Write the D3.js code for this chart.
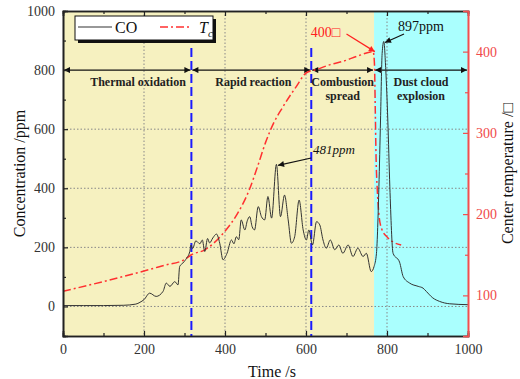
<!DOCTYPE html>
<html>
<head>
<meta charset="utf-8">
<script src="https://cdn.jsdelivr.net/npm/d3@7"></script>
<style>
  body { margin: 0; background: #fff; }
  svg text { font-family: "Liberation Serif", "Times New Roman", "DejaVu Serif", serif !important; }
</style>
</head>
<body>
<div id="chart"></div>
<script>
// CO concentration [time s, ppm]
const coData = [
  [0, 3], [50, 3], [100, 3], [150, 4], [180, 8], [190, 14], [200, 23], [214, 45], [230, 34],
  [247, 51], [255, 79], [264, 68], [276, 84], [284, 73], [288, 135], [296, 147], [305, 163],
  [313, 186], [316, 208], [320, 196], [328, 222], [338, 212], [344, 225], [350, 186], [357, 230],
  [362, 215], [370, 232], [379, 245], [387, 214], [395, 158], [405, 180], [416, 225], [422, 212],
  [428, 236], [434, 226], [440, 293], [449, 259], [455, 290], [461, 304], [467, 270], [473, 259],
  [482, 338], [490, 304], [498, 293], [506, 372], [515, 299], [527, 481], [537, 304], [547, 377],
  [556, 293], [564, 214], [572, 236], [583, 360], [593, 259], [601, 225], [607, 259], [616, 208],
  [626, 287], [634, 276], [642, 225], [650, 197], [660, 225], [671, 192], [681, 208], [691, 180],
  [704, 208], [716, 169], [728, 197], [741, 169], [749, 180], [761, 118], [768, 135], [774, 180],
  [780, 405], [784, 631], [788, 856], [792, 897], [797, 800], [802, 631], [807, 405], [815, 180],
  [831, 150], [840, 101], [856, 79], [877, 68], [889, 62], [897, 51], [913, 29], [930, 17],
  [955, 9], [1000, 6]
];

// Center temperature [time s, degC]
const tempData = [
  [0, 105], [100, 117], [200, 130], [250, 137], [300, 144], [317, 150], [350, 156], [400, 179],
  [430, 200], [460, 230], [480, 258], [500, 288], [520, 312], [543, 332], [576, 357], [601, 374],
  [626, 378], [660, 384], [691, 388], [730, 395], [766, 400], [769, 385], [771, 330], [773, 270],
  [776, 230], [780, 200], [786, 183], [800, 172], [814, 166], [835, 162]
];

const stageBounds = [0, 317, 613, 768, 1000];
const stageLabels = [["Thermal oxidation"], ["Rapid reaction"], ["Combustion", "spread"], ["Dust cloud", "explosion"]];
const dividers = [317, 613];
const xTicks = [0, 200, 400, 600, 800, 1000];
const xMinor = [100, 300, 500, 700, 900];
const yTicks = [0, 200, 400, 600, 800, 1000];
const yMinor = [-100, 100, 300, 500, 700, 900];
const tTicks = [100, 200, 300, 400];
const tMinor = [150, 250, 350];

const width = 520;
const height = 379;
const margin = { top: 11, right: 52, bottom: 43, left: 63 };

const svg = d3.select('#chart').append('svg')
  .attr('width', width)
  .attr('height', height);

const x = d3.scaleLinear().domain([0, 1000]).range([margin.left, width - margin.right]);
const y = d3.scaleLinear().domain([-100, 1000]).range([height - margin.bottom, margin.top]);
const yT = d3.scaleLinear().domain([50, 450]).range([height - margin.bottom, margin.top]);

const plotTop = margin.top;
const plotBottom = height - margin.bottom;

// stage backgrounds
svg.append('rect')
  .attr('x', x(0)).attr('y', plotTop)
  .attr('width', x(768) - x(0)).attr('height', plotBottom - plotTop)
  .attr('fill', '#f6f1c0');
svg.append('rect')
  .attr('x', x(768)).attr('y', plotTop)
  .attr('width', x(1000) - x(768)).attr('height', plotBottom - plotTop)
  .attr('fill', '#aafffe');

// grid
const grid = svg.append('g')
  .attr('stroke', '#888')
  .attr('stroke-width', 1)
  .attr('stroke-dasharray', '1.5,2');
grid.selectAll('line.v')
  .data([200, 400, 600, 800])
  .join('line')
  .attr('class', 'v')
  .attr('x1', (d) => x(d)).attr('x2', (d) => x(d))
  .attr('y1', plotTop).attr('y2', plotBottom);
grid.selectAll('line.h')
  .data([0, 200, 400, 600])
  .join('line')
  .attr('class', 'h')
  .attr('x1', x(0)).attr('x2', x(1000))
  .attr('y1', (d) => y(d)).attr('y2', (d) => y(d));

// divider lines
svg.selectAll('line.div')
  .data(dividers)
  .join('line')
  .attr('class', 'div')
  .attr('x1', (d) => x(d)).attr('x2', (d) => x(d))
  .attr('y1', y(875)).attr('y2', plotBottom)
  .attr('stroke', '#1a1aff')
  .attr('stroke-width', 2)
  .attr('stroke-dasharray', '9,4');

// arrow markers
const defs = svg.append('defs');
const marker = (id, color) => defs.append('marker')
  .attr('id', id)
  .attr('viewBox', '0 0 10 10')
  .attr('refX', 10).attr('refY', 5)
  .attr('markerWidth', 8).attr('markerHeight', 6)
  .attr('markerUnits', 'userSpaceOnUse')
  .attr('orient', 'auto-start-reverse')
  .append('path')
  .attr('d', 'M0,0L10,5L0,10z')
  .attr('fill', color);
marker('arrBlack', '#111');
marker('arrRed', '#ff2020');

// stage arrows and labels
const stages = d3.pairs(stageBounds);
svg.selectAll('line.stage')
  .data(stages)
  .join('line')
  .attr('class', 'stage')
  .attr('x1', (d) => x(d[0]) + 1).attr('x2', (d) => x(d[1]) - 1)
  .attr('y1', y(800)).attr('y2', y(800))
  .attr('stroke', '#111')
  .attr('stroke-width', 1.2)
  .attr('marker-start', 'url(#arrBlack)')
  .attr('marker-end', 'url(#arrBlack)');

const labelG = svg.append('g')
  .attr('font-size', 12)
  .attr('font-weight', 'bold')
  .attr('fill', '#222')
  .attr('text-anchor', 'middle');
stages.forEach((s, i) => {
  const cx = i === 0 ? x(s[0]) + 75 : (x(s[0]) + x(s[1])) / 2;
  stageLabels[i].forEach((line, j) => {
    labelG.append('text')
      .attr('x', cx + (i === 1 ? 2 : 0))
      .attr('y', y(800) + 16 + j * 14)
      .text(line);
  });
});

// series
const coLine = d3.line()
  .x((d) => x(d[0]))
  .y((d) => y(d[1]))
  .curve(d3.curveMonotoneX);
const tLine = d3.line()
  .x((d) => x(d[0]))
  .y((d) => yT(d[1]))
  .curve(d3.curveMonotoneX);

svg.append('path')
  .datum(tempData)
  .attr('d', tLine)
  .attr('fill', 'none')
  .attr('stroke', '#ff3030')
  .attr('stroke-width', 1.5)
  .attr('stroke-dasharray', '8,3,2,3');

svg.append('path')
  .datum(coData)
  .attr('d', coLine)
  .attr('fill', 'none')
  .attr('stroke', '#333')
  .attr('stroke-width', 1);

// axes
const fmt = d3.format('d');
svg.append('g')
  .attr('transform', `translate(0,${plotBottom})`)
  .call(d3.axisBottom(x).tickValues(xTicks).tickSize(-5).tickPadding(8).tickFormat(fmt));
svg.append('g')
  .attr('transform', `translate(0,${plotBottom})`)
  .call(d3.axisBottom(x).tickValues(xMinor).tickSize(-3).tickFormat(''));
svg.append('g')
  .attr('transform', `translate(0,${plotTop})`)
  .call(d3.axisTop(x).tickValues(xTicks).tickSize(-5).tickFormat(''));
svg.append('g')
  .attr('transform', `translate(0,${plotTop})`)
  .call(d3.axisTop(x).tickValues(xMinor).tickSize(-3).tickFormat(''));
svg.append('g')
  .attr('transform', `translate(${x(0)},0)`)
  .call(d3.axisLeft(y).tickValues(yTicks).tickSize(-5).tickPadding(8).tickFormat(fmt));
svg.append('g')
  .attr('transform', `translate(${x(0)},0)`)
  .call(d3.axisLeft(y).tickValues(yMinor).tickSize(-3).tickFormat(''));
svg.append('g')
  .attr('class', 'red')
  .attr('transform', `translate(${x(1000)},0)`)
  .call(d3.axisRight(yT).tickValues(tTicks).tickSize(-5).tickPadding(8).tickFormat(fmt));
svg.append('g')
  .attr('class', 'red')
  .attr('transform', `translate(${x(1000)},0)`)
  .call(d3.axisRight(yT).tickValues(tMinor).tickSize(-3).tickFormat(''));

svg.selectAll('.domain').attr('stroke', '#222').attr('stroke-width', 1.6);
svg.selectAll('.tick line').attr('stroke', '#222').attr('stroke-width', 1.2);
svg.selectAll('.tick text')
  .attr('font-size', 14)
  .attr('fill', '#333');
svg.selectAll('g.red .domain').attr('stroke', '#f05050');
svg.selectAll('g.red .tick line').attr('stroke', '#f05050');
svg.selectAll('g.red .tick text').attr('fill', '#f04a4a');

// axis titles
svg.append('text')
  .attr('transform', `translate(25,${(plotTop + plotBottom) / 2}) rotate(-90)`)
  .attr('text-anchor', 'middle')
  .attr('font-size', 16)
  .attr('fill', '#111')
  .text('Concentration /ppm');
svg.append('text')
  .attr('x', 272)
  .attr('y', 377)
  .attr('text-anchor', 'middle')
  .attr('font-size', 16)
  .attr('fill', '#111')
  .text('Time /s');
svg.append('text')
  .attr('transform', `translate(513,${(plotTop + plotBottom) / 2}) rotate(-90)`)
  .attr('text-anchor', 'middle')
  .attr('font-size', 16)
  .attr('fill', '#111')
  .text('Center temperature /□');

// annotations
const ann = svg.append('g').attr('font-size', 14);
ann.append('text')
  .attr('x', x(827)).attr('y', 31)
  .attr('fill', '#111')
  .text('897ppm');
ann.append('line')
  .attr('x1', x(842)).attr('y1', 34)
  .attr('x2', x(795)).attr('y2', y(897) + 1)
  .attr('stroke', '#111').attr('stroke-width', 1.2)
  .attr('marker-end', 'url(#arrBlack)');
ann.append('text')
  .attr('x', x(612)).attr('y', 37)
  .attr('fill', '#ff2020')
  .text('400□');
ann.append('line')
  .attr('x1', x(700)).attr('y1', 34)
  .attr('x2', x(770)).attr('y2', yT(400))
  .attr('stroke', '#ff2020').attr('stroke-width', 1.2)
  .attr('marker-end', 'url(#arrRed)');
ann.append('text')
  .attr('x', x(617)).attr('y', 154)
  .attr('font-style', 'italic')
  .attr('font-size', 13)
  .attr('fill', '#111')
  .text('481ppm');
ann.append('line')
  .attr('x1', x(613)).attr('y1', 158)
  .attr('x2', x(531)).attr('y2', y(481) + 1)
  .attr('stroke', '#111').attr('stroke-width', 1.2)
  .attr('marker-end', 'url(#arrBlack)');

// legend
const lg = svg.append('g').attr('transform', 'translate(75,16)');
lg.append('rect').attr('x', 3).attr('y', 3).attr('width', 138).attr('height', 24).attr('fill', '#111');
lg.append('rect').attr('width', 138).attr('height', 24).attr('fill', '#fff').attr('stroke', '#111');
lg.append('line').attr('x1', 3).attr('x2', 37).attr('y1', 11).attr('y2', 11)
  .attr('stroke', '#333').attr('stroke-width', 1.2);
lg.append('text').attr('x', 40).attr('y', 17).attr('font-size', 16).attr('fill', '#111').text('CO');
lg.append('line').attr('x1', 85).attr('x2', 116).attr('y1', 11).attr('y2', 11)
  .attr('stroke', '#ff3030').attr('stroke-width', 1.5).attr('stroke-dasharray', '8,3,2,3');
const tc = lg.append('text').attr('x', 124).attr('y', 17).attr('font-size', 16)
  .attr('font-style', 'italic').attr('fill', '#111');
tc.append('tspan').text('T');
tc.append('tspan').attr('font-size', 11).attr('dy', 4).text('c');
</script>
</body>
</html>
